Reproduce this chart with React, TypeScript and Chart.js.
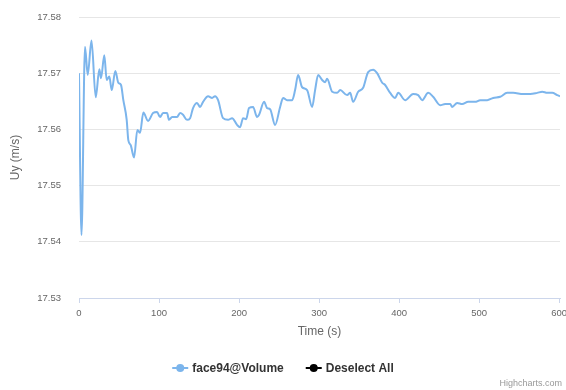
import React, { useEffect, useRef } from "react";
import { Chart, registerables } from "chart.js";

Chart.register(...registerables);

const times = [
  0, 3.1, 7.5, 10.9, 15.6, 20.9, 25.4, 27.5, 31.6, 34.6, 37.9, 40.9, 45.4, 49.1, 52.5, 55.4, 59.6, 61.6, 64.6, 68.8,
  72.9, 76.3, 80.4, 86.3, 92.5, 97.5, 101.3, 105, 110, 112.5, 116.3, 122.5, 126.3, 130, 135, 138.8, 142.5, 147.5, 151.3,
  155, 161.3, 166.3, 170, 173.8, 180, 186.3, 191.3, 197.5, 201.3, 205, 208.8, 212.5, 217.5, 222.5, 225, 231.3, 235,
  238.8, 245, 251.3, 255, 260, 266.3, 270, 273.8, 278.8, 285, 291.3, 295, 298.8, 303.8, 307.5, 310, 316.3, 322.5, 326.3,
  335, 338.8, 342.5, 348.8, 355, 361.3, 367.5, 372.5, 378.8, 382.5, 388.8, 395, 398.8, 407.5, 417.5, 423.8, 428.8,
  436.3, 442.5, 451.3, 457.5, 463.8, 466.3, 472.5, 478.8, 486.3, 495, 501.3, 510, 517.5, 526.3, 535, 542.5, 555,
  563.8, 572.5, 578.8, 585, 591.3, 597.5, 601,
];

const uyValues = [
  17.57, 17.5412, 17.5747, 17.5697, 17.5758, 17.5657, 17.5707, 17.5691, 17.5732, 17.5688, 17.5694, 17.567, 17.5704,
  17.5683, 17.5679, 17.5652, 17.5617, 17.5581, 17.5572, 17.555, 17.5599, 17.5594, 17.563, 17.5615, 17.5629, 17.5631,
  17.5622, 17.5629, 17.5629, 17.5617, 17.5622, 17.5622, 17.5629, 17.5626, 17.5617, 17.562, 17.5638, 17.5647, 17.564,
  17.5649, 17.5659, 17.5656, 17.5659, 17.5652, 17.562, 17.5617, 17.562, 17.5608, 17.5604, 17.562, 17.5618, 17.5638,
  17.564, 17.5622, 17.5626, 17.5649, 17.5638, 17.5636, 17.5608, 17.564, 17.5656, 17.5652, 17.5652, 17.567, 17.5697,
  17.5675, 17.567, 17.564, 17.567, 17.5697, 17.5688, 17.5684, 17.569, 17.5667, 17.5665, 17.567, 17.5661, 17.5665,
  17.5649, 17.5667, 17.5674, 17.5702, 17.5706, 17.57, 17.5683, 17.5679, 17.5665, 17.5656, 17.5665, 17.5652, 17.5663,
  17.5661, 17.5652, 17.5665, 17.5658, 17.5643, 17.5645, 17.5645, 17.564, 17.5647, 17.5645, 17.5649, 17.5649, 17.5652,
  17.5652, 17.5656, 17.5658, 17.5665, 17.5665, 17.5663, 17.5663, 17.5665, 17.5667, 17.5665, 17.5665, 17.5661, 17.5659,
];

const seriesNames = ["face94@Volume", "Deselect All"];
const seriesColors = ["#7cb5ec", "#000000"];
const xTitle = "Time (s)";
const yTitle = "Uy (m/s)";
const creditText = "Highcharts.com";
const xTickValues = [0, 100, 200, 300, 400, 500, 600];
const yTickValues = [17.53, 17.54, 17.55, 17.56, 17.57, 17.58];
const xMin = 0;
const xMax = 601;

const FONT = "'Liberation Sans', Arial, sans-serif";

const hcLegend = {
  id: "hcLegend",
  afterDraw(chart: any) {
    const ctx = chart.ctx as CanvasRenderingContext2D;
    ctx.save();
    ctx.font = `bold 12px ${FONT}`;
    const items = chart.data.datasets.map((ds: any) => ({ text: ds.label as string, color: ds.borderColor as string }));
    const symW = 16;
    const gapSym = 4;
    const gapItem = 22;
    const widths = items.map((it: any) => symW + gapSym + ctx.measureText(it.text).width);
    const total = widths.reduce((a: number, b: number) => a + b, 0) + gapItem * (items.length - 1);
    let x = (chart.width - total) / 2;
    const y = 368;
    items.forEach((it: any, i: number) => {
      ctx.strokeStyle = it.color;
      ctx.fillStyle = it.color;
      ctx.lineWidth = 2;
      ctx.beginPath();
      ctx.moveTo(x, y);
      ctx.lineTo(x + symW, y);
      ctx.stroke();
      ctx.beginPath();
      ctx.arc(x + symW / 2, y, 4, 0, Math.PI * 2);
      ctx.fill();
      ctx.fillStyle = "#333333";
      ctx.textBaseline = "middle";
      ctx.textAlign = "left";
      ctx.fillText(it.text, x + symW + gapSym, y + 0.5);
      x += widths[i] + gapItem;
    });
    ctx.font = `9px ${FONT}`;
    ctx.fillStyle = "#999999";
    ctx.textAlign = "right";
    ctx.textBaseline = "middle";
    ctx.fillText(creditText, 562, 384);
    ctx.restore();
  },
};

export default function App() {
  const ref = useRef<HTMLCanvasElement | null>(null);
  useEffect(() => {
    document.body.style.margin = "0";
    const canvas = ref.current;
    if (!canvas) return;
    const points = times.map((t, i) => ({ x: t, y: uyValues[i] }));
    const chart = new Chart(canvas, {
      type: "line",
      data: {
        datasets: [
          {
            label: seriesNames[0],
            data: points,
            borderColor: seriesColors[0],
            backgroundColor: seriesColors[0],
            borderWidth: 2,
            pointRadius: 0,
            cubicInterpolationMode: "monotone",
            fill: false,
          },
          {
            label: seriesNames[1],
            data: [],
            borderColor: seriesColors[1],
            backgroundColor: seriesColors[1],
            borderWidth: 2,
            pointRadius: 0,
          },
        ],
      },
      options: {
        responsive: false,
        animation: false,
        layout: { padding: { top: 17, right: 6, bottom: 48, left: 0 } },
        plugins: { legend: { display: false }, tooltip: { enabled: false } },
        scales: {
          x: {
            type: "linear",
            min: xMin,
            max: xMax,
            afterBuildTicks: (s: any) => {
              s.ticks = xTickValues.map((v) => ({ value: v }));
            },
            ticks: {
              color: "#666666",
              font: { family: FONT, size: 9.5 },
              padding: 5,
              maxRotation: 0,
              autoSkip: false,
              callback: (v: any) => String(Math.round(Number(v))),
            },
            grid: { drawOnChartArea: false, drawTicks: true, tickLength: 5, color: "#ccd6eb" },
            border: { display: true, color: "#ccd6eb", width: 1 },
            title: {
              display: true,
              text: xTitle,
              color: "#666666",
              font: { family: FONT, size: 12 },
              padding: { top: 0, bottom: 3 },
            },
            afterFit: (s: any) => {
              s.height = 44;
              s.paddingLeft = 0;
              s.paddingRight = 0;
            },
          },
          y: {
            type: "linear",
            min: yTickValues[0],
            max: yTickValues[yTickValues.length - 1],
            afterBuildTicks: (s: any) => {
              s.ticks = yTickValues.map((v) => ({ value: v }));
            },
            ticks: {
              color: "#666666",
              font: { family: FONT, size: 9.5 },
              padding: 18,
              autoSkip: false,
              callback: (v: any) => Number(v).toFixed(2),
            },
            grid: { color: "#e6e6e6", drawTicks: false, lineWidth: 1 },
            border: { display: false },
            title: {
              display: true,
              text: yTitle,
              color: "#666666",
              font: { family: FONT, size: 12 },
              padding: { top: 8, bottom: 0 },
            },
            afterFit: (s: any) => {
              s.width = 79;
              s.paddingTop = 0;
              s.paddingBottom = 0;
            },
          },
        },
      },
      plugins: [hcLegend],
    } as any);
    return () => chart.destroy();
  }, []);
  return (
    <div style={{ position: "absolute", left: 0, top: 0, width: 566, height: 390, background: "#ffffff" }}>
      <canvas ref={ref} width={566} height={390} style={{ display: "block" }} />
    </div>
  );
}
